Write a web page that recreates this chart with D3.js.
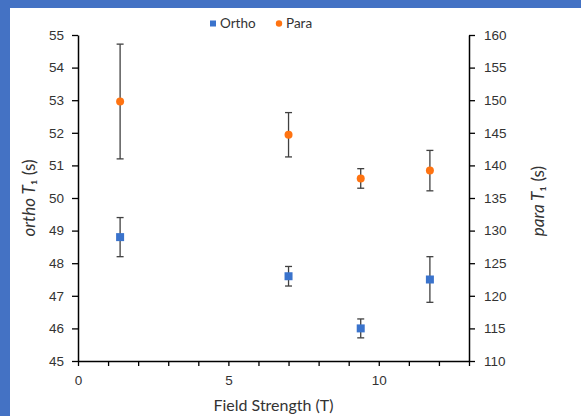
<!DOCTYPE html>
<html><head><meta charset="utf-8">
<script src="https://cdn.jsdelivr.net/npm/d3@7"></script>
<style>
html,body{margin:0;padding:0;background:#fff;}
svg{display:block;font-family:Lato,"Liberation Sans",sans-serif;}
</style></head>
<body><svg id="c" width="581" height="416"></svg>
<script>
const fieldT = [1.4, 7.0, 9.4, 11.7];
const orthoT1 = [48.8, 47.6, 46.0, 47.5];
const orthoErr = [0.6, 0.3, 0.29, 0.7];
const paraT1 = [149.8, 144.7, 138.0, 139.2];
const paraErr = [8.8, 3.4, 1.5, 3.1];
const xTicks = [0, 5, 10];
const leftTicks = [45,46,47,48,49,50,51,52,53,54,55];
const rightTicks = [110,115,120,125,130,135,140,145,150,155,160];

const svg = d3.select("#c");
const W = 581, H = 416;
const BLUE = "#3A73CC", ORANGE = "#FF7311", ERR = "#404040", TXT = "#333333";
// frame
svg.append("rect").attr("x",0).attr("y",0).attr("width",W).attr("height",H).attr("fill","#4472C4");
svg.append("rect").attr("x",10).attr("y",8).attr("width",W-10).attr("height",H-8).attr("fill","#fff");

const L = 78, R = 469, T = 35, B = 361;
const x = d3.scaleLinear().domain([0,13]).range([L,R]);
const yL = d3.scaleLinear().domain([45,55]).range([B,T]);
const yR = d3.scaleLinear().domain([110,160]).range([B,T]);

function styleAxis(g){
  g.select(".domain").attr("stroke","#000").attr("stroke-width",1.5);
  g.selectAll(".tick line").attr("stroke","#000").attr("stroke-width",1.3);
  g.selectAll(".tick text").attr("fill",TXT).attr("font-size",13.5);
}
const gx = svg.append("g").attr("transform",`translate(0,${B})`)
  .call(d3.axisBottom(x).tickValues(d3.range(0,14)).tickSize(5).tickSizeOuter(0)
    .tickFormat(d => xTicks.includes(d) ? d : ""));
styleAxis(gx);
gx.selectAll(".tick text").attr("dy","1.15em");

const gl = svg.append("g").attr("transform",`translate(${L},0)`)
  .call(d3.axisLeft(yL).tickValues(leftTicks).tickSize(6).tickSizeOuter(0).tickPadding(8));
styleAxis(gl);
const gr = svg.append("g").attr("transform",`translate(${R},0)`)
  .call(d3.axisRight(yR).tickValues(rightTicks).tickSize(6).tickSizeOuter(0).tickPadding(9));
styleAxis(gr);

function errBars(vals, errs, y){
  const g = svg.append("g").attr("stroke",ERR).attr("stroke-width",1.3);
  vals.forEach((v,i)=>{
    const cx = x(fieldT[i]);
    g.append("line").attr("x1",cx).attr("x2",cx).attr("y1",y(v+errs[i])).attr("y2",y(v-errs[i]));
    [v+errs[i], v-errs[i]].forEach(e=>{
      g.append("line").attr("x1",cx-3.5).attr("x2",cx+3.5).attr("y1",y(e)).attr("y2",y(e));
    });
  });
}
errBars(orthoT1, orthoErr, yL);
errBars(paraT1, paraErr, yR);

svg.append("g").selectAll("rect").data(orthoT1).join("rect")
  .attr("x",(d,i)=>x(fieldT[i])-4).attr("y",d=>yL(d)-4)
  .attr("width",8).attr("height",8).attr("fill",BLUE);
svg.append("g").selectAll("circle").data(paraT1).join("circle")
  .attr("cx",(d,i)=>x(fieldT[i])).attr("cy",d=>yR(d)).attr("r",4).attr("fill",ORANGE);

const lg = svg.append("g").attr("font-size",13.5);
lg.append("rect").attr("x",210).attr("y",20.5).attr("width",6).attr("height",6).attr("fill",BLUE);
lg.append("text").attr("x",220).attr("y",28).attr("fill",TXT).text("Ortho");
lg.append("circle").attr("cx",279).attr("cy",23.5).attr("r",3.2).attr("fill",ORANGE);
lg.append("text").attr("x",286).attr("y",28).attr("fill",TXT).text("Para");

svg.append("text").attr("x",(L+R)/2).attr("y",411).attr("text-anchor","middle")
  .attr("font-size",16).attr("fill",TXT).text("Field Strength (T)");

function yTitle(cx, cy, word){
  const t = svg.append("text").attr("transform",`translate(${cx},${cy}) rotate(-90)`)
    .attr("text-anchor","middle").attr("font-size",17).attr("fill",TXT);
  t.append("tspan").attr("font-style","italic").text(word+" ");
  t.append("tspan").attr("font-style","italic").text("T");
  t.append("tspan").text("\u2081 (s)");
}
yTitle(35, 198, "ortho");
yTitle(544, 201, "para");
</script></body></html>
